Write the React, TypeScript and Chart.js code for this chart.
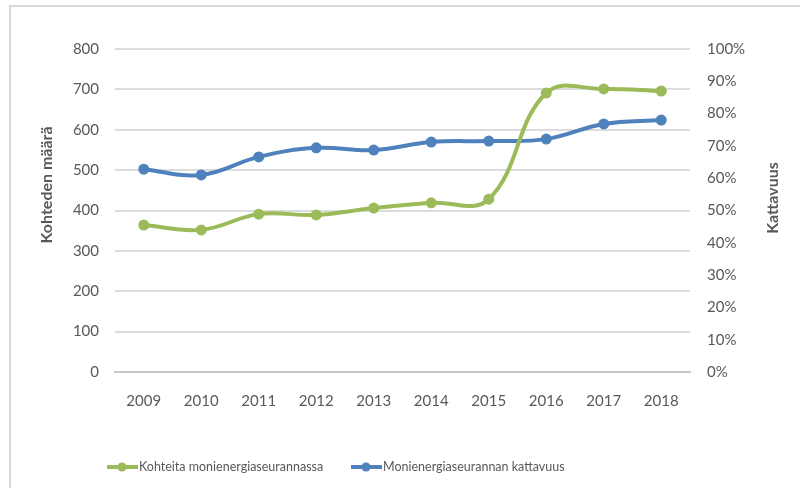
import React, { useEffect, useRef } from "react";
import { Chart, registerables } from "chart.js";
Chart.register(...registerables);

const years = ["2009", "2010", "2011", "2012", "2013", "2014", "2015", "2016", "2017", "2018"];
const kohteet = [364, 352, 391, 389, 406, 419, 428, 691, 701, 696];
const kattavuus = [0.628, 0.61, 0.666, 0.694, 0.687, 0.712, 0.715, 0.721, 0.768, 0.78];
const seriesLabels = ["Kohteita monienergiaseurannassa", "Monienergiaseurannan kattavuus"];
const leftTitle = "Kohteden määrä";
const rightTitle = "Kattavuus";

const GREEN = "#9bbb59";
const BLUE = "#4f81bd";
const TEXT = "#595959";
const FONT = "Lato, 'Open Sans', sans-serif";

const decorPlugin = {
  id: "decor",
  afterDraw(chart: any) {
    const ctx = chart.ctx as CanvasRenderingContext2D;
    ctx.save();
    // outer frame (top & left visible)
    ctx.strokeStyle = "#d9d9d9";
    ctx.lineWidth = 2;
    ctx.beginPath();
    ctx.moveTo(10, 488);
    ctx.lineTo(10, 6);
    ctx.lineTo(800, 6);
    ctx.stroke();

    // axis titles
    ctx.fillStyle = TEXT;
    ctx.font = `bold 16px ${FONT}`;
    ctx.textAlign = "center";
    ctx.textBaseline = "middle";
    ctx.save();
    ctx.translate(47, 185);
    ctx.rotate(-Math.PI / 2);
    ctx.fillText(chart.options.scales.y.title.text, 0, 0);
    ctx.restore();
    ctx.save();
    ctx.translate(773, 198);
    ctx.rotate(-Math.PI / 2);
    ctx.fillText(chart.options.scales.y1.title.text, 0, 0);
    ctx.restore();

    // legend
    const starts = [107, 351];
    const ly = 467;
    chart.data.datasets.forEach((ds: any, i: number) => {
      const x0 = starts[i];
      ctx.strokeStyle = ds.borderColor;
      ctx.lineWidth = 4;
      ctx.lineCap = "butt";
      ctx.beginPath();
      ctx.moveTo(x0, ly);
      ctx.lineTo(x0 + 31, ly);
      ctx.stroke();
      ctx.fillStyle = ds.borderColor;
      ctx.beginPath();
      ctx.arc(x0 + 15, ly, 4.5, 0, Math.PI * 2);
      ctx.fill();
      ctx.fillStyle = TEXT;
      ctx.font = `12.5px ${FONT}`;
      ctx.textAlign = "left";
      ctx.textBaseline = "middle";
      ctx.fillText(ds.label, x0 + 32, ly);
    });
    ctx.restore();
  },
};

export default function App() {
  const ref = useRef<HTMLCanvasElement>(null);
  useEffect(() => {
    document.body.style.margin = "0";
    const chart = new Chart(ref.current as HTMLCanvasElement, {
      type: "line",
      data: {
        labels: years,
        datasets: [
          {
            label: seriesLabels[0],
            data: kohteet,
            yAxisID: "y",
            borderColor: GREEN,
            backgroundColor: GREEN,
            borderWidth: 4,
            pointRadius: 5.5,
            pointBorderWidth: 0,
            tension: 0.4,
          },
          {
            label: seriesLabels[1],
            data: kattavuus,
            yAxisID: "y1",
            borderColor: BLUE,
            backgroundColor: BLUE,
            borderWidth: 4,
            pointRadius: 5.5,
            pointBorderWidth: 0,
            tension: 0.4,
          },
        ],
      },
      options: {
        animation: false,
        responsive: false,
        layout: { padding: { top: 49, bottom: 0, left: 0, right: 0 } },
        plugins: { legend: { display: false }, tooltip: { enabled: false } },
        elements: { line: { capBezierPoints: false } },
        scales: {
          x: {
            type: "category",
            offset: true,
            grid: { display: false },
            border: { display: true, color: "#c8c8c8", width: 2 },
            ticks: { color: TEXT, font: { family: FONT, size: 15 }, padding: 12, maxRotation: 0 },
            afterFit(s: any) {
              s.height = 116;
            },
          },
          y: {
            position: "left",
            min: 0,
            max: 800,
            ticks: { stepSize: 100, color: TEXT, font: { family: FONT, size: 15 }, padding: 16 },
            grid: { color: "#dcdcdc", lineWidth: 2, drawTicks: false },
            border: { display: false },
            title: { display: false, text: leftTitle },
            afterFit(s: any) {
              s.width = 115;
            },
          },
          y1: {
            position: "right",
            min: 0,
            max: 1,
            ticks: {
              stepSize: 0.1,
              color: TEXT,
              font: { family: FONT, size: 15 },
              padding: 17,
              callback: (v: any) => Math.round(Number(v) * 100) + "%",
            },
            grid: { display: false, drawTicks: false },
            border: { display: false },
            title: { display: false, text: rightTitle },
            afterFit(s: any) {
              s.width = 110;
            },
          },
        },
      } as any,
      plugins: [decorPlugin],
    });
    return () => chart.destroy();
  }, []);
  return (
    <div style={{ width: 800, height: 488, background: "#fff" }}>
      <canvas ref={ref} width={800} height={488} />
    </div>
  );
}
